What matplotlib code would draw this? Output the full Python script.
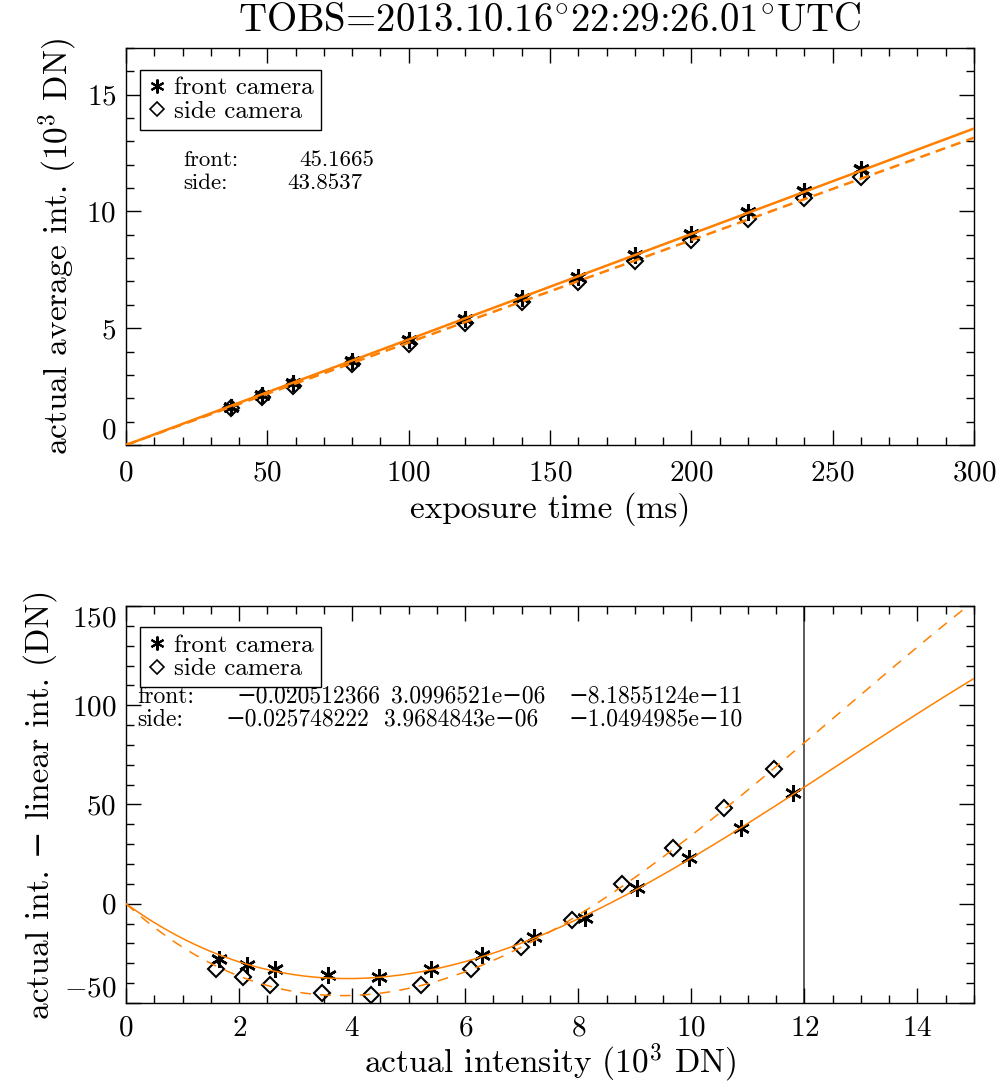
import numpy as np
import matplotlib
matplotlib.use("Agg")
import matplotlib.pyplot as plt
from matplotlib.ticker import MultipleLocator
from matplotlib.lines import Line2D

plt.rcParams['font.family'] = ['cmr10', 'DejaVu Serif']
plt.rcParams['mathtext.fontset'] = 'cm'
plt.rcParams['axes.formatter.use_mathtext'] = True

ORANGE = "#ff8000"

# exposure times (ms)
exposureTimes = [37, 48, 59, 80, 100, 120, 140, 160, 180, 200, 220, 240, 260]
# actual average intensity (10^3 DN)
frontIntensity = [1.643, 2.137, 2.632, 3.577, 4.480, 5.387, 6.297, 7.210, 8.123, 9.041, 9.960, 10.878, 11.799]
sideIntensity = [1.590, 2.068, 2.546, 3.463, 4.339, 5.221, 6.107, 6.995, 7.886, 8.781, 9.676, 10.573, 11.470]
# actual - linear intensity (DN)
frontResidual = [-28, -31, -33, -36, -37, -33, -26, -17, -7, 8, 23, 38, 56]
sideResidual = [-33, -37, -41, -45, -46, -41, -33, -22, -8, 10, 28, 48, 68]

# linear fit slopes (DN/ms) and cubic fit coefficients
frontSlope = 45.1665
sideSlope = 43.8537
frontCoeffs = [-0.020512366, 3.0996521e-06, -8.1855124e-11]
sideCoeffs = [-0.025748222, 3.9684843e-06, -1.0494985e-10]
frontCoeffLabels = ["\u22120.020512366", "3.0996521e\u221206", "\u22128.1855124e\u221211"]
sideCoeffLabels = ["\u22120.025748222", "3.9684843e\u221206", "\u22121.0494985e\u221210"]

fig = plt.figure(figsize=(10, 10.85), dpi=100)
axTop = fig.add_axes([0.126, 0.5899, 0.848, 0.3659])
axBot = fig.add_axes([0.126, 0.0756, 0.848, 0.3659])

starMarker = (6, 2, 0)


def styleAxis(ax):
    ax.tick_params(which="both", direction="in", top=True, right=True, labelsize=21, width=1)
    ax.tick_params(which="major", length=11)
    ax.tick_params(which="minor", length=6)
    ax.tick_params(axis="x", pad=11)
    ax.tick_params(axis="y", pad=7)
    for s in ax.spines.values():
        s.set_linewidth(1.0)


def edgeLabels(ax, lo, hi):
    fig.canvas.draw()
    for lab, loc in zip(ax.get_yticklabels(), ax.get_yticks()):
        if np.isclose(loc, lo):
            lab.set_verticalalignment("bottom")
        elif np.isclose(loc, hi):
            lab.set_verticalalignment("top")


# ---- top panel: intensity vs exposure time
tLine = np.array([0, 300])
axTop.plot(exposureTimes, frontIntensity, linestyle="none", marker=starMarker, ms=12, mew=2.2, color="black", zorder=2)
axTop.plot(exposureTimes, sideIntensity, linestyle="none", marker="D", ms=8, mew=1.5, mfc="none", mec="black", zorder=2)
axTop.plot(tLine, frontSlope * tLine / 1000, color=ORANGE, lw=1.8, zorder=3)
axTop.plot(tLine, sideSlope * tLine / 1000, color=ORANGE, lw=1.8, dashes=(4, 2.5), zorder=3)
axTop.set_xlim(0, 300)
axTop.set_ylim(0, 17)
axTop.xaxis.set_major_locator(MultipleLocator(50))
axTop.xaxis.set_minor_locator(MultipleLocator(10))
axTop.yaxis.set_major_locator(MultipleLocator(5))
axTop.yaxis.set_minor_locator(MultipleLocator(1))
styleAxis(axTop)
axTop.set_xlabel("exposure time (ms)", fontsize=24, labelpad=4)
axTop.set_ylabel(r"actual average int. (10$^3$ DN)", fontsize=24, labelpad=5)
axTop.set_title(r"TOBS=2013.10.16$^{\circ}$22:29:26.01$^{\circ}$UTC", fontsize=28, pad=12)

axTop.text(0.067, 0.718, "front:", transform=axTop.transAxes, fontsize=16.5, va="center")
axTop.text(0.204, 0.718, "%.4f" % frontSlope, transform=axTop.transAxes, fontsize=16.5, va="center")
axTop.text(0.067, 0.660, "side:", transform=axTop.transAxes, fontsize=16.5, va="center")
axTop.text(0.190, 0.660, "%.4f" % sideSlope, transform=axTop.transAxes, fontsize=16.5, va="center")

# ---- bottom panel: nonlinearity
xFit = np.linspace(0, 15000, 400)
frontFit = frontCoeffs[0] * xFit + frontCoeffs[1] * xFit ** 2 + frontCoeffs[2] * xFit ** 3
sideFit = sideCoeffs[0] * xFit + sideCoeffs[1] * xFit ** 2 + sideCoeffs[2] * xFit ** 3
axBot.plot(frontIntensity, frontResidual, linestyle="none", marker=starMarker, ms=12, mew=1.8, color="black", zorder=2)
axBot.plot(sideIntensity, sideResidual, linestyle="none", marker="D", ms=8, mew=1.5, mfc="none", mec="black", zorder=2)
axBot.plot(xFit / 1000, frontFit, color=ORANGE, lw=1.1, zorder=3)
axBot.plot(xFit / 1000, sideFit, color=ORANGE, lw=1.1, dashes=(7, 6), zorder=3)
axBot.axvline(12, color="0.25", lw=1.2, zorder=1)
axBot.set_xlim(0, 15)
axBot.set_ylim(-50, 150)
axBot.xaxis.set_major_locator(MultipleLocator(2))
axBot.xaxis.set_minor_locator(MultipleLocator(0.5))
axBot.yaxis.set_major_locator(MultipleLocator(50))
axBot.yaxis.set_minor_locator(MultipleLocator(10))
styleAxis(axBot)
axBot.tick_params(axis="x", pad=9)
axBot.set_xlabel(r"actual intensity (10$^3$ DN)", fontsize=24, labelpad=0)
axBot.set_ylabel("actual int. \u2212 linear int. (DN)", fontsize=24, labelpad=5)

axBot.text(0.013, 0.771, "front:", transform=axBot.transAxes, fontsize=17, va="center")
axBot.text(0.013, 0.713, "side:", transform=axBot.transAxes, fontsize=17, va="center")
for lab, xf in zip(frontCoeffLabels, [0.130, 0.313, 0.522]):
    axBot.text(xf, 0.771, lab, transform=axBot.transAxes, fontsize=17, va="center")
for lab, xf in zip(sideCoeffLabels, [0.117, 0.304, 0.522]):
    axBot.text(xf, 0.713, lab, transform=axBot.transAxes, fontsize=17, va="center")

# legends
handles = [
    Line2D([], [], linestyle="none", marker=starMarker, ms=10, mew=1.5, color="black"),
    Line2D([], [], linestyle="none", marker="D", ms=7, mew=1.2, mfc="none", mec="black"),
]
for ax, ytop in [(axTop, 0.945), (axBot, 0.947)]:
    leg = ax.legend(handles, ["front camera", "side camera"], loc="upper left",
                    bbox_to_anchor=(0.0165, ytop), borderaxespad=0, fontsize=18,
                    handlelength=0.8, handletextpad=0.3, labelspacing=0.05,
                    borderpad=0.28, fancybox=False, framealpha=1)
    leg.get_frame().set_edgecolor("black")
    leg.get_frame().set_linewidth(1.0)

edgeLabels(axTop, 0, 17)
edgeLabels(axBot, -50, 150)

fig.savefig("out.png", dpi=100)
